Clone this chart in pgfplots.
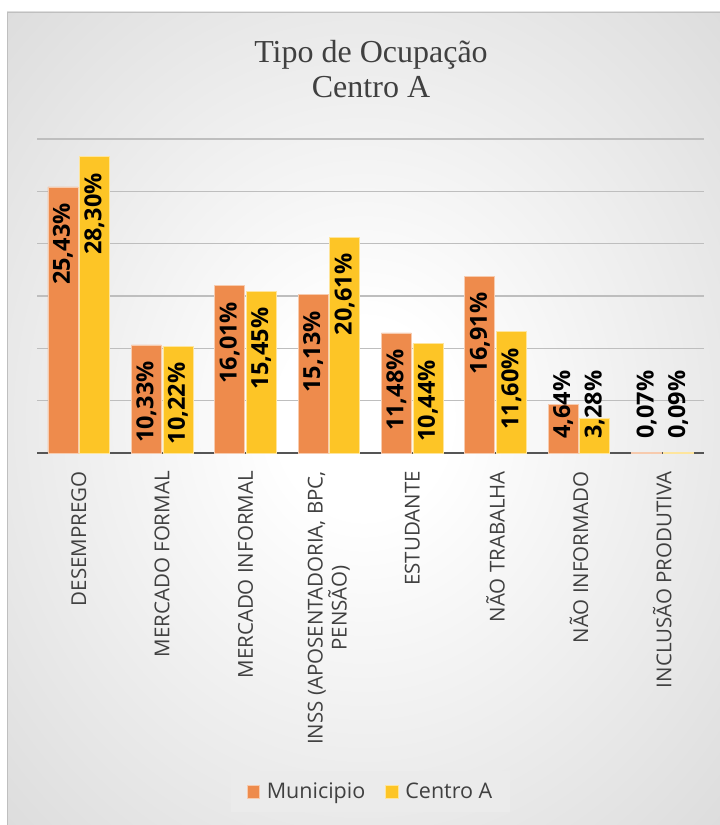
\documentclass[border=0pt]{standalone}
\usepackage{pgfplots}
\pgfplotsset{compat=1.18}
\usepackage{pgfplotstable}
\usepackage{fontspec}
\setmainfont{Open Sans}
\newfontfamily\titlefont{Liberation Serif}
\definecolor{cOr}{HTML}{EE8B4C}
\definecolor{cYe}{HTML}{FDC526}
\definecolor{txt}{HTML}{404040}
\definecolor{gridc}{HTML}{BEBEBE}
\definecolor{axc}{HTML}{555555}
\pgfdeclareradialshading{bgshade}{\pgfpoint{0bp}{0bp}}{color(0bp)=(white); color(6bp)=(white); color(50bp)=(gray!40)}

\pgfplotstableread{
x mun cen
0 25.43 28.30
1 10.33 10.22
2 16.01 15.45
3 15.13 20.61
4 11.48 10.44
5 16.91 11.60
6 4.64 3.28
7 0.07 0.09
}\data

\begin{document}
\begin{tikzpicture}
\useasboundingbox (0pt,0pt) rectangle (720pt,825pt);
\fill[white] (0pt,0pt) rectangle (720pt,825pt);
\shade[shading=bgshade] (7pt,0pt) rectangle (720pt,813pt);
\draw[gray!50, line width=0.8pt] (7.4pt,-1pt) -- (7.4pt,812.6pt) -- (721pt,812.6pt);
\node[anchor=base, font=\titlefont\fontsize{32}{35}\selectfont, text=txt, inner sep=0pt] at (371pt,762pt) {Tipo de Ocupação};
\node[anchor=base, font=\titlefont\fontsize{32}{35}\selectfont, text=txt, inner sep=0pt] at (371pt,727pt) {Centro A};
\begin{axis}[
  at={(37pt,372pt)}, anchor=south west, scale only axis,
  width=667pt, height=314pt,
  xmin=-0.5, xmax=7.5, ymin=0, ymax=30,
  clip=false,
  axis x line*=bottom, axis y line*=left,
  y axis line style={draw=none},
  x axis line style={draw=axc, line width=2.8pt},
  ytick={0,5,...,30}, yticklabels={}, ymajorgrids,
  grid style={draw=gridc, line width=1.2pt},
  major tick length=0pt, tick style={draw=none},
  xtick={0,...,7},
  xticklabels={DESEMPREGO, MERCADO FORMAL, MERCADO INFORMAL, {INSS (APOSENTADORIA, BPC,\\PENSÃO)}, ESTUDANTE, NÃO TRABALHA, NÃO INFORMADO, INCLUSÃO PRODUTIVA},
  xticklabel style={rotate=90, anchor=east, align=center, font=\fontsize{20.5}{24}\selectfont, text=txt, inner sep=0pt},
  xticklabel shift=18pt,
  /pgf/number format/fixed, /pgf/number format/fixed zerofill,
  /pgf/number format/precision=2, /pgf/number format/use comma,
  /pgf/number format/assume math mode=true,
  legend columns=2,
  legend style={at={(0.5,-1.078)}, anchor=center, draw=none, fill=gray!16,
    font=\fontsize{21.5}{25}\selectfont, text=txt, inner xsep=16pt, inner ysep=10pt,
    /tikz/every odd column/.append style={column sep=5pt},
    /tikz/every even column/.append style={column sep=18pt}},
  legsq/.style={legend image code/.code={\draw[##1, line width=0.6pt] (0pt,-6.5pt) rectangle (12.5pt,6.5pt);}},
  lab/.style={draw=none, mark=none, forget plot, point meta=\thisrow{#1},
    nodes near coords={\pgfmathprintnumber{\pgfplotspointmeta}\%},
    nodes near coords style={rotate=90, inner sep=0pt, font=\bfseries\fontsize{23.5}{26}\selectfont, text=black}},
]
\addplot[ybar, bar width=30pt, bar shift=-15.8pt, fill=cOr, draw=white!55!cOr, line width=0.6pt, legsq] table[x=x, y=mun]{\data};
\addlegendentry{Municipio}
\addplot[ybar, bar width=30pt, bar shift=15.8pt, fill=cYe, draw=white!55!cYe, line width=0.6pt, legsq] table[x=x, y=cen]{\data};
\addlegendentry{Centro A}

\addplot[lab=mun, skip coords between index={6}{8}, nodes near coords style={anchor=east}] table[x expr=\thisrow{x}-0.1895, y expr=\thisrow{mun}-1.55]{\data};
\addplot[lab=mun, skip coords between index={0}{6}, nodes near coords style={anchor=west}] table[x expr=\thisrow{x}-0.1895, y expr=1.35]{\data};
\addplot[lab=cen, skip coords between index={6}{8}, nodes near coords style={anchor=east}] table[x expr=\thisrow{x}+0.1895, y expr=\thisrow{cen}-1.55]{\data};
\addplot[lab=cen, skip coords between index={0}{6}, nodes near coords style={anchor=west}] table[x expr=\thisrow{x}+0.1895, y expr=1.35]{\data};
\end{axis}
\end{tikzpicture}
\end{document}
